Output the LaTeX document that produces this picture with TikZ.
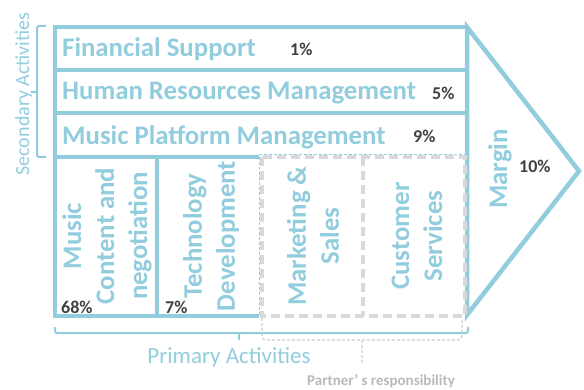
\documentclass[tikz,border=0pt]{standalone}
\usepackage{fontspec}
\setmainfont{Carlito}
\usetikzlibrary{positioning}

\definecolor{chainblue}{RGB}{146,205,221}
\definecolor{partgrey}{RGB}{217,217,217}
\definecolor{pctgrey}{RGB}{64,64,64}
\definecolor{notegrey}{RGB}{185,185,185}

\begin{document}
\begin{tikzpicture}[x=1pt, y=-1pt,
      frame/.style={draw=chainblue, line width=4.5pt},
      partner/.style={draw=partgrey, line width=4pt, dash pattern=on 9pt off 5pt},
      brace/.style={draw=chainblue, line width=2pt, rounded corners=2pt},
      notebrace/.style={draw=partgrey!85!gray, line width=1.2pt, dash pattern=on 3pt off 2pt, rounded corners=4pt},
      label/.style={text=chainblue, font=\bfseries\fontsize{26.8}{33}\selectfont, inner sep=0pt},
      vlabel/.style={label, rotate=90, align=center},
      pct/.style={text=pctgrey, font=\bfseries\fontsize{18}{20}\selectfont, inner sep=0pt, anchor=base west}]
      \useasboundingbox (0, 0) rectangle (584, 390);
      \draw [frame] (467, 27) -- (55, 27) -- (55, 316) -- (259, 316);
      \draw [frame] (55, 70) -- (467, 70)
                    (55, 113) -- (467, 113)
                    (55, 157) -- (259, 157)
                    (157, 157) -- (157, 316);
      \draw [frame, line join=miter] (467, 27) -- (579, 171) -- (467, 315) -- cycle;
      \draw [chainblue, line width=0.8pt, dash pattern=on 3pt off 2pt] (259, 154) -- (467, 154)
                                                                  (259, 157) -- (259, 316);
      \draw [partner] (262, 157) rectangle (465, 316)
                      (363, 157) -- (363, 316);
      \node [label, anchor=base west] (finance) at (62, 57) {Financial Support};
      \node [label, anchor=base west] (hr) at (62, 100) {Human Resources Management};
      \node [label, anchor=base west] (platform) at (62, 145) {Music Platform Management};
      \node [pct] (pfinance) at (290, 56) {1\%};
      \node [pct] (phr) at (432, 100) {5\%};
      \node [pct] (pplatform) at (413, 143) {9\%};
      \node [vlabel] (content) at (107, 236) {Music\\Content and\\negotiation};
      \node [vlabel] (tech) at (211, 236) {Technology\\Development};
      \node [vlabel] (marketing) at (313, 236) {Marketing \&\\Sales};
      \node [vlabel] (service) at (417, 236) {Customer\\Services};
      \node [label, rotate=90] (margin) at (500, 169) {Margin};
      \node [pct] (pcontent) at (61, 313) {68\%};
      \node [pct] (ptech) at (165, 313) {7\%};
      \node [pct] (pmargin) at (519, 173) {10\%};
      \draw [brace] (46, 26) -- (37, 26) -- (37, 157) -- (46, 157)
                    (37, 92) -- (31, 92);
      \node [text=chainblue, font=\fontsize{20}{24}\selectfont, rotate=90, anchor=base] (secondary) at (29, 94) {Secondary Activities};
      \draw [brace] (55, 327) -- (55, 333) -- (468, 333) -- (468, 327)
                    (239, 333) -- (239, 340);
      \node [text=chainblue, font=\fontsize{23}{26}\selectfont, anchor=base] (primary) at (229, 363) {Primary Activities};
      \draw [notebrace] (262, 318) |- (362, 340) -| (462, 318)
                        (362, 340) -- (362, 364);
      \node [text=notegrey, font=\bfseries\fontsize{15}{17}\selectfont, anchor=base] (partnernote) at (381, 385) {Partner’ s responsibility};
\end{tikzpicture}
\end{document}
